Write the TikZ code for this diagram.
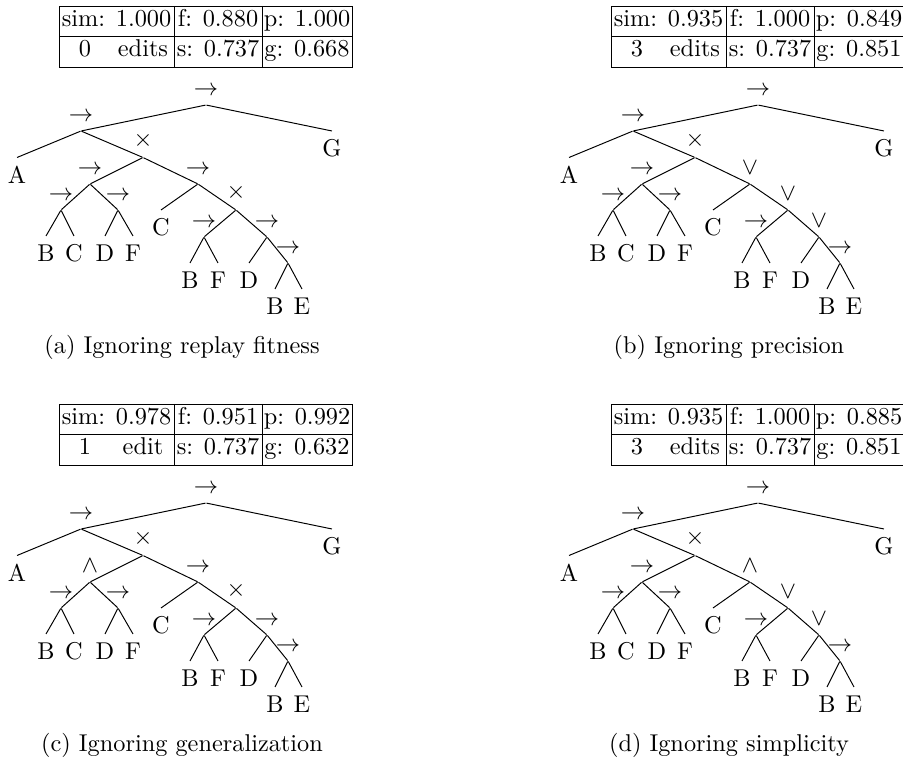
\documentclass[tikz,border=0pt]{standalone}

\tikzset{
  op/.style={inner sep=0pt, minimum size=0pt, label={above:{$#1$}}},
  leaf/.style={anchor=north},
  cell/.style={anchor=base, inner sep=0pt},
}

\begin{document}
\begin{tikzpicture}[x=0.4115pt, y=-0.4115pt]
  \useasboundingbox (0,0) rectangle (903,763);

  \foreach \p/\dx/\dy/\opL/\opR/\opX/\opD/\vsim/\vf/\vp/\vn/\ved/\vg/\cx/\capt in {
    a/0/0/\rightarrow/\rightarrow/\times/\rightarrow/1.000/0.880/1.000/0/edits/0.668/182/{(a) Ignoring replay fitness},
    b/552/0/\rightarrow/\vee/\vee/\vee/0.935/1.000/0.849/3/edits/0.851/177/{(b) Ignoring precision},
    c/0/398/\wedge/\rightarrow/\times/\rightarrow/0.978/0.951/0.992/1/edit/0.632/182/{(c) Ignoring generalization},
    d/552/398/\rightarrow/\wedge/\vee/\vee/0.935/1.000/0.885/3/edits/0.851/177/{(d) Ignoring simplicity}}{
  \begin{scope}[shift={(\dx,\dy)}]
    % score table
    \draw (59,6) rectangle (352,67);
    \draw (59,36.5) -- (352,36.5);
    \draw (174,6) -- (174,67);
    \draw (262,6) -- (262,67);
    \node [cell] (\p-sim) at (116.5,26.5) {sim: \vsim};
    \node [cell] (\p-f) at (218,26.5) {f: \vf};
    \node [cell] (\p-p) at (307,26.5) {p: \vp};
    \node [cell] (\p-n) at (85,57) {\vn};
    \node [cell] (\p-ed) at (143,57) {\ved};
    \node [cell] (\p-s) at (218,57) {s: 0.737};
    \node [cell] (\p-g) at (307,57) {g: \vg};

    % process tree
    \node [op=\rightarrow] (\p-root) at (206,105) {};
    \node [op=\rightarrow] (\p-seq) at (81,131) {};
    \node [op=\times] (\p-xa) at (143,157.5) {};
    \node [op=\opL] (\p-l) at (90,184) {};
    \node [op=\opR] (\p-r) at (198,184) {};
    \node [op=\rightarrow] (\p-bc) at (61,210) {};
    \node [op=\rightarrow] (\p-df) at (118,210) {};
    \node [op=\opX] (\p-xb) at (236,210) {};
    \node [op=\rightarrow] (\p-bf) at (204,237) {};
    \node [op=\opD] (\p-dd) at (267,237) {};
    \node [op=\rightarrow] (\p-be) at (288,263) {};

    \foreach \n/\t/\x/\y in {G/G/332/131, A/A/17/157.5, b1/B/46/236, c1/C/74/236,
      d1/D/105/236, f1/F/133/236, c2/C/161/210, b2/B/190/263, f2/F/218/263,
      d2/D/249/263, b3/B/275/289, e3/E/302/289}
      \node [leaf] (\p-\n) at (\x,\y) {\t};

    \foreach \src/\dst in {root/seq, root/G.north, seq/A.north, seq/xa, xa/l, xa/r,
      l/bc, l/df, bc/b1.north, bc/c1.north, df/d1.north, df/f1.north,
      r/c2.north, r/xb, xb/bf, xb/dd, bf/b2.north, bf/f2.north,
      dd/d2.north, dd/be, be/b3.north, be/e3.north}
      \draw (\p-\src) -- (\p-\dst);

    \node [anchor=base] (\p-cap) at (\cx,353.5) {\capt};
  \end{scope}
  }
\end{tikzpicture}
\end{document}
